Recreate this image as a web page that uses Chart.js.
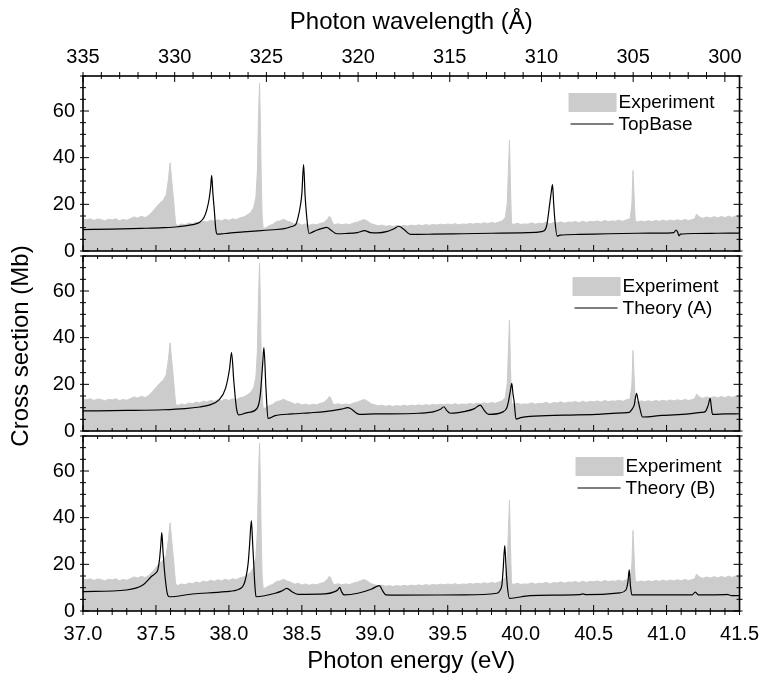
<!DOCTYPE html>
<html>
<head>
<meta charset="utf-8">
<title>Photoionization cross section</title>
<script src="https://cdn.jsdelivr.net/npm/chart.js@4.4.1/dist/chart.umd.min.js"></script>
<style>
  html, body { margin: 0; padding: 0; background: #fff; }
  #wrap { width: 765px; height: 679px; }
</style>
</head>
<body>
<div id="wrap"><canvas id="chart1" width="765" height="679"></canvas></div>
<script>
// values: photon energy (eV) and cross section (Mb)
const energyExp = [
  37.000, 37.025, 37.050, 37.075, 37.100, 37.125, 37.150, 37.175, 37.200, 37.225, 37.250, 37.275, 37.300, 37.325, 37.350, 37.375, 37.400, 37.425, 37.450,
  37.475, 37.500, 37.525, 37.550, 37.570, 37.585, 37.597, 37.610, 37.622, 37.635,
  37.650, 37.675, 37.700, 37.725, 37.750, 37.775, 37.800, 37.825, 37.850, 37.875, 37.900, 37.925, 37.950, 37.975, 38.000, 38.025, 38.050, 38.075, 38.100,
  38.125, 38.150, 38.170, 38.185, 38.195, 38.203, 38.210, 38.216, 38.222, 38.228, 38.235,
  38.250, 38.275, 38.300, 38.325, 38.350, 38.375, 38.400, 38.425, 38.450, 38.475, 38.500, 38.525, 38.550, 38.575, 38.600, 38.625, 38.650, 38.675,
  38.690, 38.700, 38.712, 38.725,
  38.750, 38.775, 38.800, 38.825, 38.850, 38.875, 38.900, 38.925, 38.950, 38.975, 39.000, 39.025, 39.050, 39.075, 39.100, 39.125, 39.150, 39.175, 39.200, 39.225,
  39.250, 39.275, 39.300, 39.325, 39.350, 39.375, 39.400, 39.425, 39.450, 39.475, 39.500, 39.525, 39.550, 39.575, 39.600, 39.625, 39.650, 39.675, 39.700, 39.725,
  39.750, 39.775, 39.800, 39.825, 39.850,
  39.875, 39.895, 39.908, 39.916, 39.923, 39.930, 39.937,
  39.950, 39.975, 40.000, 40.025, 40.050, 40.075, 40.100, 40.125, 40.150, 40.175, 40.200, 40.225, 40.250, 40.275, 40.300, 40.325, 40.350, 40.375, 40.400, 40.425,
  40.450, 40.475, 40.500, 40.525, 40.550, 40.575, 40.600, 40.625, 40.650, 40.675, 40.700, 40.725, 40.750,
  40.762, 40.770, 40.777, 40.785,
  40.800, 40.825, 40.850, 40.875, 40.900, 40.925, 40.950, 40.975, 41.000, 41.025, 41.050, 41.075, 41.100, 41.125, 41.150, 41.175,
  41.195, 41.205, 41.215, 41.230,
  41.250, 41.275, 41.300, 41.325, 41.350, 41.375, 41.400, 41.425, 41.450, 41.475, 41.500
];
const crossExp = [
  13.9, 13.4, 13.8, 13.1, 13.7, 13.5, 12.9, 13.6, 13.3, 13.8, 13.0, 13.5, 13.2, 13.9, 14.6, 14.1, 14.9, 14.3, 15.2,
  16.8, 18.6, 20.4, 21.8, 24.0, 30.5, 37.8, 29.0, 21.0, 11.5,
  10.9, 11.6, 11.2, 12.0, 11.7, 12.4, 12.0, 12.8, 12.4, 13.2, 12.7, 13.4, 12.9, 13.6, 13.1, 13.8, 13.4, 14.2, 14.6,
  15.4, 16.6, 18.6, 23.0, 34.0, 58.0, 72.0, 55.0, 30.0, 15.0, 9.6,
  9.9, 10.8, 11.4, 12.6, 12.9, 13.6, 12.8, 12.3, 11.5, 11.9, 11.1, 11.6, 11.0, 11.5, 11.2, 11.8, 12.2, 13.6,
  14.9, 13.8, 11.8, 11.3,
  11.7, 11.2, 11.6, 11.3, 11.9, 12.3, 12.9, 13.5, 12.8, 11.7, 11.2, 10.8, 11.1, 10.6, 10.9, 10.5, 10.9, 10.6, 11.0, 10.7,
  11.1, 10.8, 11.2, 10.9, 11.3, 11.0, 11.4, 11.1, 11.5, 11.2, 11.6, 11.3, 11.7, 11.2, 11.6, 11.4, 11.8, 11.5, 11.9, 11.6,
  12.1, 11.7, 12.2, 11.9, 12.4,
  13.0, 14.5, 20.5, 35.0, 47.5, 28.0, 12.0,
  11.3, 11.9, 11.4, 11.6, 11.5, 12.1, 11.5, 11.9, 11.8, 12.3, 11.6, 12.2, 12.0, 12.5, 11.9, 12.4, 12.3, 12.6, 12.1, 12.8,
  12.2, 12.7, 12.5, 12.9, 12.4, 13.1, 12.6, 12.9, 12.8, 13.2, 12.7, 13.4, 13.8,
  20.0, 34.5, 24.0, 13.0,
  12.4, 12.9, 12.5, 13.0, 12.6, 13.1, 12.7, 13.2, 12.8, 13.3, 12.9, 13.4, 13.0, 13.5, 13.1, 13.4,
  14.0, 15.8, 15.2, 14.4,
  14.0, 14.6, 14.1, 14.7, 14.2, 14.8, 14.3, 14.9, 14.4, 15.0, 14.6
];

const energyTop = [
  37.00, 37.20, 37.40, 37.55, 37.65, 37.75, 37.80, 37.83, 37.848, 37.865, 37.875, 37.882, 37.890, 37.900, 37.910,
  37.920, 37.95, 38.00, 38.10, 38.20, 38.30, 38.38, 38.43, 38.46, 38.476, 38.49, 38.50, 38.512, 38.522, 38.533,
  38.549, 38.57, 38.60, 38.64, 38.67, 38.70, 38.74, 38.80, 38.88, 38.93, 38.97, 39.02, 39.08, 39.13, 39.165,
  39.20, 39.245, 39.40, 39.60, 39.80, 40.00, 40.10, 40.15, 40.177, 40.20, 40.21, 40.218, 40.226, 40.234, 40.25,
  40.27, 40.40, 40.60, 40.80, 41.00, 41.05, 41.065, 41.075, 41.085, 41.095, 41.20, 41.35, 41.50
];
const topBase = [
  9.2, 9.4, 9.7, 10.0, 10.4, 11.3, 12.3, 14.5, 17.5, 22.5, 27.5, 32.4, 25.0, 17.5, 9.5,
  7.2, 7.3, 7.7, 8.2, 8.6, 9.1, 9.6, 10.5, 11.5, 14.9, 19.5, 24.5, 37.0, 24.0, 14.9,
  7.5, 8.0, 8.9, 9.7, 10.1, 8.9, 7.4, 7.5, 7.9, 8.7, 7.9, 7.8, 8.3, 9.5, 10.6,
  9.2, 7.1, 7.2, 7.4, 7.6, 7.8, 8.0, 8.4, 10.6, 20.7, 25.5, 28.5, 20.5, 13.5, 6.4,
  6.8, 7.1, 7.4, 7.6, 7.7, 7.9, 9.0, 8.2, 6.5, 7.2, 7.5, 7.6, 7.7
];

const energyA = [
  37.00, 37.30, 37.55, 37.70, 37.80, 37.864, 37.932, 37.977, 38.005, 38.018, 38.034, 38.052, 38.068, 38.10, 38.136,
  38.193, 38.215, 38.231, 38.240, 38.254, 38.268, 38.317, 38.43, 38.55, 38.657, 38.771, 38.816, 38.896, 39.00, 39.22,
  39.30, 39.406, 39.45, 39.474, 39.495, 39.519, 39.61, 39.68, 39.723, 39.75, 39.78, 39.882, 39.905, 39.916, 39.930,
  39.939, 39.947, 39.955, 39.968, 40.00, 40.063, 40.30, 40.517, 40.70, 40.744, 40.765, 40.778, 40.794, 40.805, 40.816,
  40.835, 40.97, 41.15, 41.24, 41.265, 41.285, 41.299, 41.307, 41.315, 41.40, 41.50
];
const theoryA = [
  8.6, 8.8, 9.1, 9.6, 10.3, 11.1, 13.3, 18.3, 26.9, 33.6, 21.1, 9.7, 6.9, 7.4, 8.0,
  9.7, 15.4, 28.3, 35.7, 18.3, 5.4, 6.6, 7.3, 7.8, 8.3, 9.4, 10.0, 7.1, 7.3, 7.4,
  7.6, 8.3, 9.3, 10.4, 8.6, 7.6, 8.3, 9.5, 11.1, 8.8, 7.1, 8.3, 10.0, 12.6, 17.5,
  20.4, 16.0, 12.6, 5.1, 5.7, 6.3, 6.8, 7.1, 7.8, 8.0, 9.5, 11.1, 16.1, 13.0, 9.9,
  6.0, 6.7, 7.3, 8.0, 8.3, 11.0, 14.0, 10.0, 7.1, 7.3, 7.4
];

const energyB = [
  37.00, 37.297, 37.41, 37.467, 37.501, 37.512, 37.524, 37.533, 37.540, 37.548, 37.558, 37.570, 37.580, 37.592, 37.75,
  37.977, 38.068, 38.10, 38.118, 38.132, 38.141, 38.154, 38.162, 38.170, 38.178, 38.186, 38.317, 38.36, 38.397, 38.43,
  38.476, 38.657, 38.726, 38.745, 38.760, 38.772, 38.789, 38.884, 38.975, 39.032, 39.055, 39.077, 39.156, 39.61, 39.837,
  39.860, 39.871, 39.880, 39.891, 39.900, 39.909, 39.923, 40.063, 40.40, 40.426, 40.45, 40.68, 40.721, 40.735, 40.744,
  40.752, 40.762, 41.175, 41.197, 41.22, 41.40, 41.413, 41.447, 41.50
];
const theoryB = [
  8.3, 9.0, 11.1, 14.7, 16.4, 17.5, 21.9, 28.0, 33.6, 26.0, 17.6, 10.5, 6.9, 6.1, 7.3,
  8.3, 9.3, 11.0, 14.7, 20.5, 27.6, 38.7, 30.0, 20.4, 11.0, 6.1, 7.6, 8.5, 9.7, 8.4,
  7.1, 7.3, 8.3, 9.0, 10.1, 8.3, 6.9, 7.6, 9.3, 10.9, 8.5, 6.9, 6.8, 6.9, 7.6,
  9.0, 11.1, 18.0, 28.0, 18.0, 10.4, 5.4, 6.6, 7.0, 7.3, 7.0, 7.8, 9.0, 12.5, 17.6,
  11.0, 6.9, 6.9, 8.1, 6.9, 7.0, 7.1, 6.6, 6.6
];

const energyTicks = [37.0, 37.5, 38.0, 38.5, 39.0, 39.5, 40.0, 40.5, 41.0, 41.5];
const wavelengthTicks = [335, 330, 325, 320, 315, 310, 305, 300];
const sectionTicks = [0, 20, 40, 60];
const theoryNames = ['TopBase', 'Theory (A)', 'Theory (B)'];

const panelAxes = ['yTop', 'yMid', 'yBot'];
const grey = '#cccccc';

Chart.defaults.font.family = '"Liberation Sans", Arial, sans-serif';
Chart.defaults.color = '#000';

function points(xs, ys) {
    return xs.map((x, i) => ({x: x, y: ys[i]}));
}

const theoryData = [points(energyTop, topBase), points(energyA, theoryA), points(energyB, theoryB)];
const datasets = [];
panelAxes.forEach((id, p) => {
    datasets.push({
        label: theoryNames[p],
        data: theoryData[p],
        yAxisID: id,
        borderColor: '#000',
        borderWidth: 1.2,
        pointRadius: 0,
        cubicInterpolationMode: 'monotone',
        fill: false,
        order: 1
    });
    datasets.push({
        label: 'Experiment',
        data: points(energyExp, crossExp),
        yAxisID: id,
        borderColor: grey,
        backgroundColor: grey,
        borderWidth: 1,
        pointRadius: 0,
        fill: 'origin',
        order: 2
    });
});

function panelAxis(weight) {
    return {
        type: 'linear',
        position: 'left',
        stack: 'panels',
        weight: weight,
        min: -2.14,
        max: 75,
        afterBuildTicks: s => { s.ticks = sectionTicks.map(v => ({value: v})); },
        afterFit: s => { s.width = 43; },
        grid: { display: false, drawTicks: false },
        border: { display: false },
        ticks: { font: { size: 20 }, padding: 8 }
    };
}

// box and tick marks of every panel, drawn on the chart's own scales
const frameTicks = {
    id: 'frameTicks',
    afterDatasetsDraw(chart) {
        const ctx = chart.ctx;
        const left = chart.chartArea.left, right = chart.chartArea.right;
        const ex = chart.scales.x, wl = chart.scales.x2;
        ctx.save();
        ctx.strokeStyle = '#000';
        panelAxes.forEach((id, p) => {
            const ys = chart.scales[id];
            const top = ys.getPixelForValue(75);
            const bottom = ys.getPixelForValue(0);
            ctx.lineWidth = 1;
            ctx.beginPath();
            for (let v = 0; v <= 75; v += 5) {
                const y = ys.getPixelForValue(v);
                const inner = v % 20 === 0 ? 6 : 3;
                ctx.moveTo(left - 3, y); ctx.lineTo(left + inner, y);
                ctx.moveTo(right + 3, y); ctx.lineTo(right - inner, y);
            }
            for (let i = 370; i <= 415; i++) {
                const x = ex.getPixelForValue(i / 10);
                const inner = i % 5 === 0 ? 6 : 3;
                ctx.moveTo(x, bottom + (p === 2 ? 4 : 0)); ctx.lineTo(x, bottom - inner);
                if (p > 0) { ctx.moveTo(x, top); ctx.lineTo(x, top + inner); }
            }
            if (p === 0) {
                for (let w = 300; w <= 335; w++) {
                    const x = wl.getPixelForValue(w);
                    const inner = w % 5 === 0 ? 6 : 3;
                    ctx.moveTo(x, top - 4); ctx.lineTo(x, top + inner);
                }
            }
            ctx.stroke();
            ctx.lineWidth = 1.6;
            ctx.strokeRect(left, top, right - left, bottom - top);
        });
        ctx.restore();
    }
};

// small key in the upper right corner of each panel
const panelKeys = {
    id: 'panelKeys',
    afterDatasetsDraw(chart, args, opts) {
        const ctx = chart.ctx;
        ctx.save();
        ctx.font = '19px "Liberation Sans", Arial, sans-serif';
        ctx.textBaseline = 'middle';
        ctx.textAlign = 'left';
        panelAxes.forEach((id, p) => {
            const spot = opts.spots[p];
            const x0 = chart.chartArea.right + spot.dx;
            const y0 = chart.scales[id].getPixelForValue(75) + spot.dy;
            const theory = chart.data.datasets[2 * p];
            const exp = chart.data.datasets[2 * p + 1];
            ctx.fillStyle = exp.backgroundColor;
            ctx.fillRect(x0, y0, 48, 19);
            ctx.fillStyle = '#000';
            ctx.fillText(exp.label, x0 + 50, y0 + 10);
            ctx.strokeStyle = theory.borderColor;
            ctx.lineWidth = 1.2;
            ctx.beginPath();
            ctx.moveTo(x0 + 2, y0 + 31);
            ctx.lineTo(x0 + 45, y0 + 31);
            ctx.stroke();
            ctx.fillText(theory.label, x0 + 50, y0 + 32);
        });
        ctx.restore();
    }
};

new Chart(document.getElementById('chart1'), {
    type: 'line',
    data: { datasets: datasets },
    plugins: [frameTicks, panelKeys],
    options: {
        responsive: false,
        animation: false,
        layout: { padding: { left: 0, right: 21, top: 0, bottom: 0 } },
        plugins: {
            legend: { display: false },
            tooltip: { enabled: false },
            panelKeys: { spots: [{dx: -171, dy: 17}, {dx: -167, dy: 21}, {dx: -164, dy: 21}] }
        },
        scales: {
            x: {
                type: 'linear',
                position: 'bottom',
                min: 37,
                max: 41.5,
                afterBuildTicks: s => { s.ticks = energyTicks.map(v => ({value: v})); },
                afterFit: s => { s.height = 63; },
                grid: { display: false, drawTicks: false },
                border: { display: false },
                ticks: {
                    font: { size: 20 },
                    padding: 6,
                    maxRotation: 0,
                    autoSkip: false,
                    callback: v => v.toFixed(1)
                },
                title: { display: true, text: 'Photon energy (eV)', font: { size: 24 }, padding: { top: 0, bottom: 3 } }
            },
            x2: {
                type: 'linear',
                position: 'top',
                reverse: true,
                min: 299.2,
                max: 335,
                afterBuildTicks: s => { s.ticks = wavelengthTicks.map(v => ({value: v})); },
                afterFit: s => { s.height = 76; },
                grid: { display: false, drawTicks: false },
                border: { display: false },
                ticks: {
                    font: { size: 20 },
                    padding: 7,
                    maxRotation: 0,
                    autoSkip: false,
                    callback: v => String(v)
                },
                title: { display: true, text: 'Photon wavelength (Å)', font: { size: 24 }, padding: { top: 8, bottom: 0 } }
            },
            yTitle: {
                type: 'linear',
                position: 'left',
                weight: 10,
                min: 0,
                max: 1,
                afterFit: s => { s.width = 40; },
                grid: { display: false, drawTicks: false },
                border: { display: false },
                ticks: { display: false },
                title: { display: true, text: 'Cross section (Mb)', font: { size: 24 }, padding: { top: 7, bottom: 0 } }
            },
            yTop: panelAxis(3),
            yMid: panelAxis(2),
            yBot: panelAxis(1)
        }
    }
});
</script>
</body>
</html>
